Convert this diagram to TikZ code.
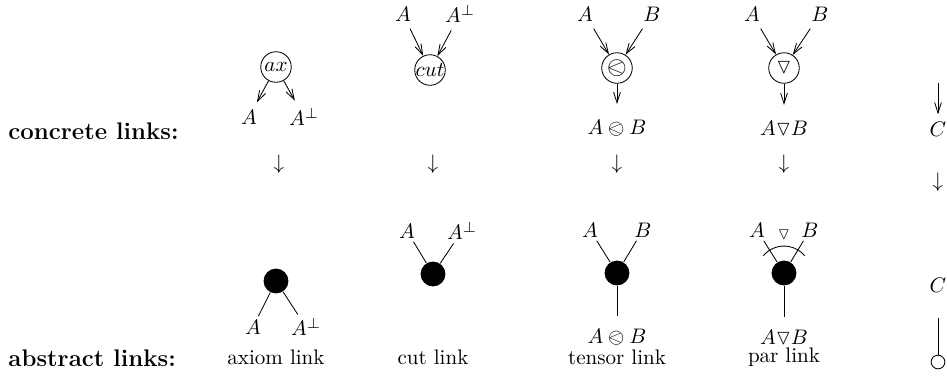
\documentclass[tikz,border=0pt]{standalone}
\usepackage{amsmath, amssymb}
\usepackage{stmaryrd}
\usetikzlibrary{arrows.meta}

\begin{document}
\begin{tikzpicture}[x=0.475pt, y=-0.475pt,
  linknode/.style={circle, draw, inner sep=0pt, minimum size=14.5pt},
  linkdot/.style={circle, fill, inner sep=0pt, minimum size=11.8pt},
  abslabel/.style={inner sep=1.5pt},
  rowlabel/.style={anchor=west, font=\fontsize{11.4}{13}\selectfont\bfseries},
  concarrow/.style={-{Straight Barb[length=5pt, width=3.2pt]}},
]
\useasboundingbox (0,0) rectangle (947,376);

% Row labels
\node[rowlabel] (concrete) at (1,131) {concrete links:};
\node[rowlabel] (abstract) at (1,358) {abstract links:};

% Axiom link (concrete)
\node[linknode] (axc) at (276,67) {$ax$};
\node (axA) at (249,117) {$A$};
\node (axAp) at (304,117) {$A^\perp$};
\draw[concarrow] (axc) -- (axA);
\draw[concarrow] (axc) -- (axAp);

% Cut link (concrete)
\node (cutA) at (403,14) {$A$};
\node (cutAp) at (460,14) {$A^\perp$};
\node[linknode] (cutc) at (430,70) {\makebox[0pt]{$cut$}};
\draw[concarrow] (cutA) -- (cutc);
\draw[concarrow] (cutAp) -- (cutc);

% Tensor link (concrete)
\node (tenA) at (585,14) {$A$};
\node (tenB) at (652,14) {$B$};
\node[linknode] (tenc) at (617,68) {\large$\olessthan$};
\node (tenAB) at (617,128) {$A \olessthan B$};
\draw[concarrow] (tenA) -- (tenc);
\draw[concarrow] (tenB) -- (tenc);
\draw[concarrow, shorten >=4pt] (tenc) -- (tenAB);

% Par link (concrete)
\node (parA) at (752,14) {$A$};
\node (parB) at (820,14) {$B$};
\node[linknode] (parc) at (784,68) {$\triangledown$};
\node (parAB) at (784,128) {$A{\triangledown}B$};
\draw[concarrow] (parA) -- (parc);
\draw[concarrow] (parB) -- (parc);
\draw[concarrow, shorten >=4pt] (parc) -- (parAB);

% Conclusion (concrete)
\coordinate (conTop) at (938,83);
\node (conC) at (938,129) {$C$};
\draw[concarrow] (conTop) -- (conC);

% Translation arrows
\node (axdown) at (279,164) {$\downarrow$};
\node (cutdown) at (433,164) {$\downarrow$};
\node (tendown) at (617,164) {$\downarrow$};
\node (pardown) at (784,164) {$\downarrow$};
\node (condown) at (938,182) {$\downarrow$};

% Axiom link (abstract)
\node[linkdot] (axd) at (276,281) {};
\node[abslabel] (axdA) at (253,327) {$A$};
\node[abslabel] (axdAp) at (306,327) {$A^\perp$};
\draw (axd) -- (axdA);
\draw (axd) -- (axdAp);
\node (axname) at (276,357) {axiom link};

% Cut link (abstract)
\node[abslabel] (cutdA) at (407,231) {$A$};
\node[abslabel] (cutdAp) at (462,231) {$A^\perp$};
\node[linkdot] (cutd) at (433,274) {};
\draw (cutdA) -- (cutd);
\draw (cutdAp) -- (cutd);
\node (cutname) at (433,357) {cut link};

% Tensor link (abstract)
\node[abslabel] (tendA) at (590,230) {$A$};
\node[abslabel] (tendB) at (643,230) {$B$};
\node[linkdot] (tend) at (617,273) {};
\node (tendAB) at (617,337) {$A \olessthan B$};
\draw (tendA) -- (tend);
\draw (tendB) -- (tend);
\draw[shorten >=2.5pt] (tend) -- (tendAB);
\node (tenname) at (617,357) {tensor link};

% Par link (abstract)
\node[abslabel] (pardA) at (757,230) {$A$};
\node[abslabel] (pardB) at (810,230) {$B$};
\node[font=\footnotesize] (pardsym) at (784,235) {$\triangledown$};
\node[linkdot] (pard) at (784,273) {};
\node (pardAB) at (784,337) {$A{\triangledown}B$};
\draw (pardA) -- (pard);
\draw (pardB) -- (pard);
\draw[shorten >=2.5pt] (pard) -- (pardAB);
\draw ([shift={(140:12.8pt)}]pard.center) arc[start angle=140, end angle=40, radius=12.8pt];
\node (parname) at (784,357) {par link};

% Conclusion (abstract)
\node (condC) at (938,285) {$C$};
\coordinate (condTop) at (938,318);
\node[circle, draw, inner sep=0pt, minimum size=6.5pt] (condEnd) at (938,362) {};
\draw (condTop) -- (condEnd);

\end{tikzpicture}
\end{document}
